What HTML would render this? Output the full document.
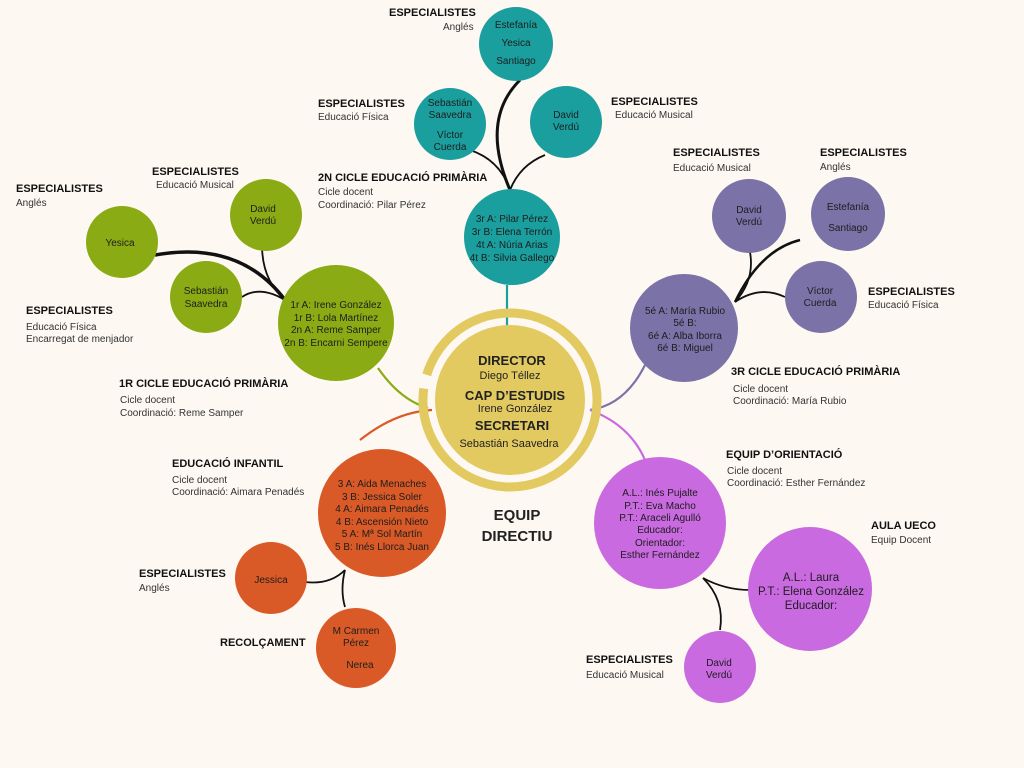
<!DOCTYPE html>
<html><head><meta charset="utf-8"><style>
html,body{margin:0;padding:0;background:#fdf8f1;}
svg{display:block}
text{font-family:"Liberation Sans",sans-serif;fill:#222;}
.h{font-weight:bold;font-size:11px;fill:#111}
.s{font-size:10px;fill:#333}
.c{font-size:10px;fill:#1d1d1d;text-anchor:middle}
</style></head><body>
<svg width="1024" height="768" viewBox="0 0 1024 768">
<rect width="1024" height="768" fill="#fdf8f1"/>
<g fill="none" stroke-width="2.2">
<path d="M507 285 L507 330" stroke="#1a9e9e"/>
<path d="M378 368 Q400 400 428 408" stroke="#8aab14"/>
<path d="M360 440 Q395 412 432 410" stroke="#d95a27"/>
<path d="M645 365 Q625 405 590 410" stroke="#7b72a8"/>
<path d="M590 410 Q630 425 645 460" stroke="#c96ae0"/>
</g>
<g fill="none" stroke="#111" stroke-width="1.8">
<path d="M510 190 Q480 120 520 80" stroke-width="3"/>
<path d="M510 190 Q500 160 470 150"/>
<path d="M510 190 Q520 165 545 155"/>
<path d="M285 300 Q240 240 155 255" stroke-width="3.5"/>
<path d="M285 300 Q262 280 262 245"/>
<path d="M285 300 Q260 285 242 297"/>
<path d="M735 302 Q760 250 800 240" stroke-width="2.5"/>
<path d="M735 302 Q755 280 750 252"/>
<path d="M735 302 Q760 285 785 297"/>
<path d="M703 578 Q725 590 750 590"/>
<path d="M703 578 Q725 600 720 630"/>
<path d="M345 570 Q330 585 305 582"/>
<path d="M345 570 Q340 590 345 607"/>
</g>
<circle cx="510" cy="400" r="87" fill="none" stroke="#e2ca60" stroke-width="9" stroke-dasharray="520 14" transform="rotate(205 510 400)"/>
<circle cx="510" cy="400" r="75" fill="#e2ca60"/>
<text x="512" y="365" text-anchor="middle" style="font-weight:bold;font-size:13px">DIRECTOR</text>
<text x="510" y="379" text-anchor="middle" style="font-size:11px">Diego Téllez</text>
<text x="515" y="400" text-anchor="middle" style="font-weight:bold;font-size:13px">CAP D’ESTUDIS</text>
<text x="515" y="412" text-anchor="middle" style="font-size:11px">Irene González</text>
<text x="512" y="430" text-anchor="middle" style="font-weight:bold;font-size:13px">SECRETARI</text>
<text x="509" y="447" text-anchor="middle" style="font-size:11px">Sebastián Saavedra</text>
<text x="517" y="520" text-anchor="middle" style="font-weight:bold;font-size:15px">EQUIP</text>
<text x="517" y="541" text-anchor="middle" style="font-weight:bold;font-size:15px">DIRECTIU</text>
<g fill="#1a9e9e">
<circle cx="512" cy="237" r="48"/><circle cx="516" cy="44" r="37"/>
<circle cx="450" cy="124" r="36"/><circle cx="566" cy="122" r="36"/></g>
<text class="c" x="512" y="222">3r A: Pilar Pérez</text>
<text class="c" x="512" y="235">3r B: Elena Terrón</text>
<text class="c" x="512" y="248">4t A: Núria Arias</text>
<text class="c" x="512" y="261">4t B: Silvia Gallego</text>
<text class="c" x="516" y="28">Estefanía</text><text class="c" x="516" y="46">Yesica</text><text class="c" x="516" y="64">Santiago</text>
<text class="c" x="450" y="106">Sebastián</text><text class="c" x="450" y="118">Saavedra</text><text class="c" x="450" y="138">Víctor</text><text class="c" x="450" y="150">Cuerda</text>
<text class="c" x="566" y="118">David</text><text class="c" x="566" y="130">Verdú</text>
<text class="h" x="389" y="16">ESPECIALISTES</text><text class="s" x="443" y="30">Anglés</text>
<text class="h" x="318" y="107">ESPECIALISTES</text><text class="s" x="318" y="120">Educació  Física</text>
<text class="h" x="611" y="105">ESPECIALISTES</text><text class="s" x="615" y="118">Educació Musical</text>
<text class="h" x="318" y="181">2N CICLE EDUCACIÓ PRIMÀRIA</text><text class="s" x="318" y="195">Cicle docent</text><text class="s" x="318" y="208">Coordinació: Pilar Pérez</text>
<g fill="#8aab14">
<circle cx="336" cy="323" r="58"/><circle cx="122" cy="242" r="36"/>
<circle cx="266" cy="215" r="36"/><circle cx="206" cy="297" r="36"/></g>
<text class="c" x="336" y="308">1r A: Irene González</text>
<text class="c" x="336" y="321">1r B: Lola Martínez</text>
<text class="c" x="336" y="333">2n A: Reme Samper</text>
<text class="c" x="336" y="346">2n B: Encarni Sempere</text>
<text class="c" x="120" y="246">Yesica</text>
<text class="c" x="263" y="212">David</text><text class="c" x="263" y="224">Verdú</text>
<text class="c" x="206" y="294">Sebastián</text><text class="c" x="206" y="307">Saavedra</text>
<text class="h" x="16" y="192">ESPECIALISTES</text><text class="s" x="16" y="206">Anglés</text>
<text class="h" x="152" y="175">ESPECIALISTES</text><text class="s" x="156" y="188">Educació Musical</text>
<text class="h" x="26" y="314">ESPECIALISTES</text><text class="s" x="26" y="330">Educació  Física</text><text class="s" x="26" y="342">Encarregat de menjador</text>
<text class="h" x="119" y="387">1R CICLE EDUCACIÓ PRIMÀRIA</text><text class="s" x="120" y="403">Cicle docent</text><text class="s" x="120" y="416">Coordinació: Reme Samper</text>
<g fill="#7b72a8">
<circle cx="684" cy="328" r="54"/><circle cx="749" cy="216" r="37"/>
<circle cx="848" cy="214" r="37"/><circle cx="821" cy="297" r="36"/></g>
<text class="c" x="685" y="314">5é A: María Rubio</text>
<text class="c" x="685" y="326">5é B:</text>
<text class="c" x="685" y="339">6é A: Alba Iborra</text>
<text class="c" x="685" y="351">6é B: Miguel</text>
<text class="c" x="749" y="213">David</text><text class="c" x="749" y="225">Verdú</text>
<text class="c" x="848" y="210">Estefanía</text><text class="c" x="848" y="231">Santiago</text>
<text class="c" x="820" y="294">Víctor</text><text class="c" x="820" y="306">Cuerda</text>
<text class="h" x="673" y="156">ESPECIALISTES</text><text class="s" x="673" y="171">Educació Musical</text>
<text class="h" x="820" y="156">ESPECIALISTES</text><text class="s" x="820" y="170">Anglés</text>
<text class="h" x="868" y="295">ESPECIALISTES</text><text class="s" x="868" y="308">Educació  Física</text>
<text class="h" x="731" y="375">3R CICLE EDUCACIÓ PRIMÀRIA</text><text class="s" x="733" y="392">Cicle docent</text><text class="s" x="733" y="404">Coordinació: María Rubio</text>
<g fill="#d95a27">
<circle cx="382" cy="513" r="64"/><circle cx="271" cy="578" r="36"/>
<circle cx="356" cy="648" r="40"/></g>
<text class="c" x="382" y="487">3 A: Aida Menaches</text>
<text class="c" x="382" y="500">3 B: Jessica Soler</text>
<text class="c" x="382" y="512">4 A: Aimara Penadés</text>
<text class="c" x="382" y="525">4 B: Ascensión Nieto</text>
<text class="c" x="382" y="537">5 A: Mª Sol Martín</text>
<text class="c" x="382" y="550">5 B: Inés Llorca Juan</text>
<text class="c" x="271" y="583">Jessica</text>
<text class="c" x="356" y="634">M Carmen</text><text class="c" x="356" y="646">Pérez</text><text class="c" x="360" y="668">Nerea</text>
<text class="h" x="172" y="467">EDUCACIÓ INFANTIL</text><text class="s" x="172" y="483">Cicle docent</text><text class="s" x="172" y="495">Coordinació: Aimara Penadés</text>
<text class="h" x="139" y="577">ESPECIALISTES</text><text class="s" x="139" y="591">Anglés</text>
<text class="h" x="220" y="646">RECOLÇAMENT</text>
<g fill="#c96ae0">
<circle cx="660" cy="523" r="66"/><circle cx="810" cy="589" r="62"/>
<circle cx="720" cy="667" r="36"/></g>
<text class="c" x="660" y="496">A.L.: Inés Pujalte</text>
<text class="c" x="660" y="509">P.T.: Eva Macho</text>
<text class="c" x="660" y="521">P.T.: Araceli Agulló</text>
<text class="c" x="660" y="533">Educador:</text>
<text class="c" x="660" y="546">Orientador:</text>
<text class="c" x="660" y="558">Esther Fernández</text>
<text class="c" x="811" y="581" style="font-size:11.5px">A.L.: Laura</text>
<text class="c" x="811" y="595" style="font-size:11.5px">P.T.: Elena González</text>
<text class="c" x="811" y="609" style="font-size:11.5px">Educador:</text>
<text class="c" x="719" y="666">David</text><text class="c" x="719" y="678">Verdú</text>
<text class="h" x="726" y="458">EQUIP D’ORIENTACIÓ</text><text class="s" x="727" y="474">Cicle docent</text><text class="s" x="727" y="486">Coordinació: Esther Fernández</text>
<text class="h" x="871" y="529">AULA UECO</text><text class="s" x="871" y="543">Equip Docent</text>
<text class="h" x="586" y="663">ESPECIALISTES</text><text class="s" x="586" y="678">Educació Musical</text>
</svg>
</body></html>
